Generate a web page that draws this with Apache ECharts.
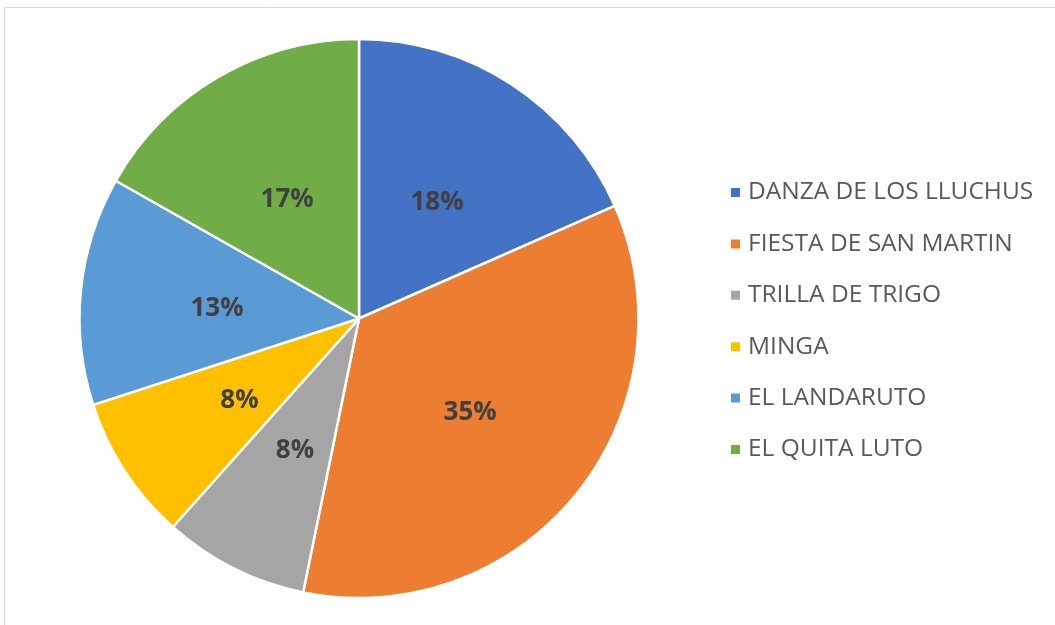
<!DOCTYPE html>
<html><head><meta charset="utf-8">
<script src="https://cdn.jsdelivr.net/npm/echarts@6/dist/echarts.min.js"></script>
<style>html,body{margin:0;padding:0;background:#fff}#c{width:1055px;height:625px}</style>
</head><body><div id="c"></div>
<script>
const categories = ["DANZA DE LOS LLUCHUS","FIESTA DE SAN MARTIN","TRILLA DE TRIGO","MINGA","EL LANDARUTO","EL QUITA LUTO"];
const values = [46, 87, 21, 21, 33, 42];
const colors = ["#4472C4","#ED7D31","#A5A5A5","#FFC000","#5B9BD5","#70AD47"];
const chart = echarts.init(document.getElementById('c'));
chart.setOption({
  animation:false,
  backgroundColor:'#fff',
  graphic:[{type:'rect',shape:{x:4.5,y:7.5,width:1070,height:640},style:{fill:'none',stroke:'#D9D9D9',lineWidth:1}}],
  legend:{
    orient:'vertical', left:724, top:175, itemWidth:11, itemHeight:11, itemGap:26.4, icon:'rect',
    textStyle:{fontFamily:'Open Sans', fontSize:24.5, color:'#595959', padding:[0,0,0,2]}
  },
  series:[{
    type:'pie', center:[359,318.5], radius:[0,279.5], startAngle:90, clockwise:true,
    percentPrecision:2,
    itemStyle:{borderColor:'#fff', borderWidth:2.5},
    label:{show:true, position:'inside', formatter:p=>Math.round(p.percent)+'%', fontFamily:'Open Sans', fontWeight:'bold', fontSize:26, color:'#404040', offset:[0,4]},
    labelLine:{show:false},
    emphasis:{disabled:true},
    data: categories.map((n,i)=>({name:n, value:values[i], itemStyle:{color:colors[i]}}))
  }]
});
</script></body></html>
